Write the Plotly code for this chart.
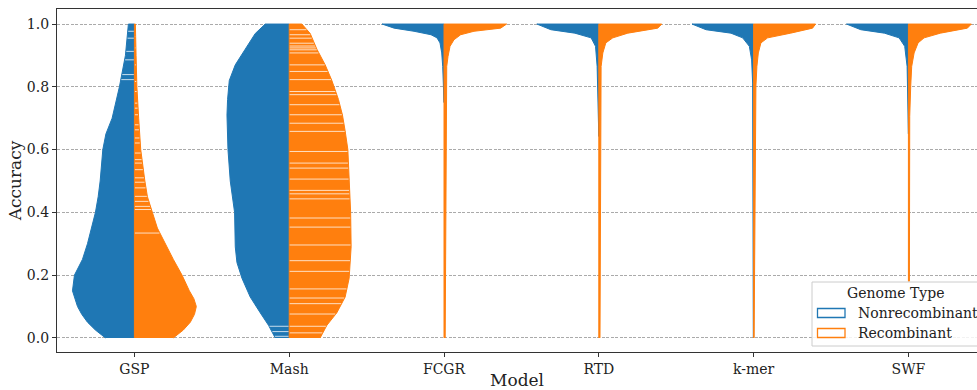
import numpy as np
import plotly.graph_objects as go

categories = ["GSP", "Mash", "FCGR", "RTD", "k-mer", "SWF"]
genome_types = ["Nonrecombinant", "Recombinant"]
y_ticks = [0.0, 0.2, 0.4, 0.6, 0.8, 1.0]

# accuracy levels and relative kernel density (1 = widest) for each half violin
gsp_nonrec_acc = [0, 0.025, 0.05, 0.075, 0.1, 0.15, 0.2, 0.25, 0.3, 0.35, 0.4, 0.45, 0.5, 0.6, 0.65, 0.7, 0.8, 0.9, 1.0]
gsp_nonrec_den = [0.468, 0.63, 0.758, 0.85, 0.919, 1.0, 0.968, 0.839, 0.758, 0.694, 0.629, 0.585, 0.553, 0.51, 0.46, 0.36, 0.242, 0.145, 0.097]
gsp_rec_acc = [0, 0.025, 0.05, 0.075, 0.1, 0.125, 0.15, 0.2, 0.25, 0.3, 0.35, 0.4, 0.45, 0.5, 0.6, 0.7, 0.8, 0.9, 1.0]
gsp_rec_den = [0.629, 0.79, 0.903, 0.97, 1.0, 0.96, 0.887, 0.769, 0.629, 0.5, 0.371, 0.29, 0.21, 0.169, 0.102, 0.069, 0.04, 0.027, 0.016]

mash_nonrec_acc = [0, 0.04, 0.08, 0.13, 0.19, 0.24, 0.29, 0.4, 0.5, 0.6, 0.71, 0.76, 0.82, 0.87, 0.92, 0.97, 1.0]
mash_nonrec_den = [0.226, 0.334, 0.468, 0.629, 0.763, 0.844, 0.871, 0.882, 0.952, 0.989, 1.005, 0.995, 0.968, 0.871, 0.71, 0.548, 0.387]
mash_rec_acc = [0, 0.04, 0.08, 0.13, 0.19, 0.24, 0.29, 0.4, 0.5, 0.6, 0.66, 0.71, 0.76, 0.82, 0.87, 0.92, 0.97, 1.0]
mash_rec_den = [0.5, 0.608, 0.769, 0.903, 0.968, 0.989, 1.0, 0.992, 0.968, 0.947, 0.903, 0.86, 0.795, 0.689, 0.581, 0.447, 0.339, 0.205]

fcgr_nonrec_acc = [0.75, 0.802, 0.865, 0.908, 0.94, 0.956, 0.966, 0.977, 0.987, 1.0]
fcgr_nonrec_den = [0, 0.008, 0.021, 0.037, 0.065, 0.113, 0.21, 0.484, 0.806, 1.0]
fcgr_rec_acc = [0, 0.802, 0.865, 0.897, 0.929, 0.95, 0.966, 0.977, 0.987, 1.0]
fcgr_rec_den = [0.019, 0.032, 0.044, 0.065, 0.097, 0.161, 0.269, 0.484, 0.915, 1.011]

rtd_nonrec_acc = [0.642, 0.706, 0.802, 0.865, 0.929, 0.956, 0.971, 0.982, 1.0]
rtd_nonrec_den = [0, 0.011, 0.016, 0.027, 0.053, 0.124, 0.387, 0.774, 1.0]
rtd_rec_acc = [0, 0.802, 0.865, 0.908, 0.94, 0.956, 0.971, 0.987, 1.0]
rtd_rec_den = [0.019, 0.027, 0.037, 0.065, 0.113, 0.226, 0.468, 0.952, 1.016]

kmer_nonrec_acc = [0, 0.5, 0.812, 0.886, 0.929, 0.956, 0.971, 0.982, 1.0]
kmer_nonrec_den = [0.005, 0.006, 0.016, 0.032, 0.069, 0.177, 0.366, 0.769, 0.995]
kmer_rec_acc = [0, 0.6, 0.738, 0.802, 0.865, 0.908, 0.94, 0.956, 0.971, 0.987, 1.0]
kmer_rec_den = [0.008, 0.021, 0.027, 0.037, 0.053, 0.076, 0.118, 0.226, 0.597, 0.952, 1.0]

swf_nonrec_acc = [0.65, 0.802, 0.865, 0.929, 0.956, 0.971, 0.982, 1.0]
swf_nonrec_den = [0, 0.011, 0.021, 0.06, 0.15, 0.387, 0.769, 1.0]
swf_rec_acc = [0.18, 0.706, 0.802, 0.865, 0.908, 0.94, 0.956, 0.971, 0.987, 1.0]
swf_rec_den = [0.016, 0.021, 0.037, 0.053, 0.092, 0.156, 0.253, 0.516, 0.952, 1.016]

# individual observations visible as stick lines
gsp_nonrec_sticks = [0.977, 0.955, 0.913, 0.886, 0.839, 0.823]
gsp_rec_sticks = [0.987, 0.96, 0.924, 0.87, 0.817, 0.785, 0.748, 0.732, 0.711, 0.679, 0.663,
                  0.637, 0.621, 0.589, 0.568, 0.557, 0.536, 0.51, 0.496, 0.478, 0.451, 0.435,
                  0.419, 0.409, 0.334]
mash_nonrec_sticks = [0.037, 0.02, 0.005]
mash_rec_sticks = [0.982, 0.966, 0.955, 0.939, 0.93, 0.924, 0.918, 0.908, 0.87, 0.849, 0.823,
                   0.785, 0.775, 0.743, 0.711, 0.684, 0.658, 0.594, 0.557, 0.541, 0.506, 0.47,
                   0.459, 0.443, 0.382, 0.353, 0.296, 0.246, 0.212, 0.156, 0.127, 0.109,
                   0.076, 0.037, 0.016]

halves = {
    ("GSP", "Nonrecombinant"): (gsp_nonrec_acc, gsp_nonrec_den, gsp_nonrec_sticks),
    ("GSP", "Recombinant"): (gsp_rec_acc, gsp_rec_den, gsp_rec_sticks),
    ("Mash", "Nonrecombinant"): (mash_nonrec_acc, mash_nonrec_den, mash_nonrec_sticks),
    ("Mash", "Recombinant"): (mash_rec_acc, mash_rec_den, mash_rec_sticks),
    ("FCGR", "Nonrecombinant"): (fcgr_nonrec_acc, fcgr_nonrec_den, []),
    ("FCGR", "Recombinant"): (fcgr_rec_acc, fcgr_rec_den, []),
    ("RTD", "Nonrecombinant"): (rtd_nonrec_acc, rtd_nonrec_den, []),
    ("RTD", "Recombinant"): (rtd_rec_acc, rtd_rec_den, []),
    ("k-mer", "Nonrecombinant"): (kmer_nonrec_acc, kmer_nonrec_den, []),
    ("k-mer", "Recombinant"): (kmer_rec_acc, kmer_rec_den, []),
    ("SWF", "Nonrecombinant"): (swf_nonrec_acc, swf_nonrec_den, []),
    ("SWF", "Recombinant"): (swf_rec_acc, swf_rec_den, []),
}

colors = {"Nonrecombinant": "#1f77b4", "Recombinant": "#ff7f0e"}
side = {"Nonrecombinant": -1, "Recombinant": 1}
HALF_WIDTH = 0.4
FONT = "DejaVu Serif"
W, H = 977, 390
ML, MR, MT, MB = 57, 0, 9, 38
PW, PH = W - ML - MR, H - MT - MB
X_RANGE = [-0.5, 5.443]
px_per_cat = PW / (X_RANGE[1] - X_RANGE[0])

fig = go.Figure()

for gt in genome_types:
    for ci, cat in enumerate(categories):
        acc, den, sticks = halves[(cat, gt)]
        acc = np.array(acc, dtype=float)
        den = np.array(den, dtype=float)
        xs = list(ci + side[gt] * HALF_WIDTH * den) + [ci, ci]
        ys = list(acc) + [acc[-1], acc[0]]
        fig.add_trace(go.Scatter(
            x=xs, y=ys, mode="lines", fill="toself",
            fillcolor=colors[gt], line=dict(color=colors[gt], width=1),
            hoverinfo="skip", showlegend=False))
        if sticks:
            sx, sy = [], []
            off = 0.5 / px_per_cat
            for s in sticks:
                w = HALF_WIDTH * np.interp(s, acc, den)
                sx += [ci + side[gt] * off, ci + side[gt] * (w - off), None]
                sy += [s, s, None]
            fig.add_trace(go.Scatter(
                x=sx, y=sy, mode="lines",
                line=dict(color="rgba(255,255,255,0.75)", width=1),
                hoverinfo="skip", showlegend=False))


def px_x(p):
    return (p - ML) / PW


def px_y(p):
    return (H - MB - p) / PH


shapes = []
annotations = []
# legend frame
shapes.append(dict(type="rect", xref="paper", yref="paper",
                   x0=px_x(812), x1=px_x(995), y0=px_y(346), y1=px_y(282),
                   fillcolor="rgba(255,255,255,0.85)", line=dict(color="#cccccc", width=1),
                   layer="above"))
annotations.append(dict(text="Genome Type", xref="paper", yref="paper",
                        x=px_x(895), y=px_y(293), xanchor="center", yanchor="middle",
                        showarrow=False, font=dict(family=FONT, size=14, color="#222")))
for i, gt in enumerate(genome_types):
    cy = 313 + 20 * i
    shapes.append(dict(type="rect", xref="paper", yref="paper",
                       x0=px_x(817.5), x1=px_x(845), y0=px_y(cy + 4.5), y1=px_y(cy - 4.5),
                       fillcolor="white", line=dict(color=colors[gt], width=1.3),
                       layer="above"))
    annotations.append(dict(text=gt, xref="paper", yref="paper",
                            x=px_x(856), y=px_y(cy), xanchor="left", yanchor="middle",
                            showarrow=False, font=dict(family=FONT, size=14, color="#222")))

fig.update_layout(
    width=W, height=H,
    margin=dict(l=ML, r=MR, t=MT, b=MB, autoexpand=False),
    paper_bgcolor="white", plot_bgcolor="white",
    font=dict(family=FONT, size=14, color="#222"),
    showlegend=False,
    shapes=shapes, annotations=annotations,
)
fig.update_xaxes(
    range=X_RANGE, tickmode="array", tickvals=list(range(len(categories))),
    ticktext=categories, showgrid=False, zeroline=False,
    showline=True, linecolor="#333", linewidth=1.3, mirror=True,
    ticks="outside", ticklen=4, tickcolor="#333",
    tickfont=dict(family=FONT, size=14, color="#222"),
    title=dict(text="Model", font=dict(family=FONT, size=17, color="#222"), standoff=0),
)
fig.update_yaxes(
    range=[-0.045, 1.048], tickmode="array", tickvals=y_ticks,
    ticktext=[f"{v:.1f}" for v in y_ticks],
    showgrid=True, gridcolor="#aaaaaa", gridwidth=0.8, griddash="3px,1.5px",
    zeroline=False, showline=True, linecolor="#333", linewidth=1.3,
    ticks="outside", ticklen=4, tickcolor="#333",
    tickfont=dict(family=FONT, size=14, color="#222"),
    title=dict(text="Accuracy", font=dict(family=FONT, size=17, color="#222"), standoff=0),
)

fig.write_html("out.html", config={"displayModeBar": False},
               post_script="document.body.style.margin='0';")
